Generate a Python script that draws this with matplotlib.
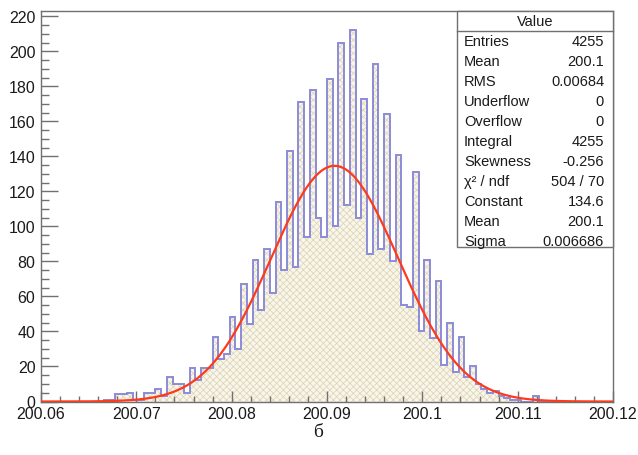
import numpy as np
import matplotlib
matplotlib.use("Agg")
import matplotlib.pyplot as plt
from matplotlib.patches import Rectangle
from matplotlib.lines import Line2D
from matplotlib.ticker import MultipleLocator, FuncFormatter

# histogram: 100 bins between 200.06 and 200.12
x_min, x_max, n_bins = 200.06, 200.12, 100
counts = [0, 0, 0, 0, 0, 0, 0, 0, 0, 0,
          0, 1, 1, 4, 4, 5, 1, 1, 5, 5,
          7, 3, 14, 10, 10, 5, 19, 12, 19, 19,
          37, 24, 27, 48, 30, 67, 44, 81, 52, 87,
          62, 114, 75, 143, 77, 171, 94, 178, 105, 94,
          184, 100, 205, 112, 212, 105, 173, 84, 193, 87,
          164, 80, 141, 55, 54, 131, 40, 81, 36, 69,
          21, 45, 17, 37, 14, 20, 10, 7, 5, 6,
          3, 2, 1, 1, 0, 0, 3, 0, 0, 0,
          0, 0, 0, 0, 0, 0, 0, 0, 0, 0]

# gaussian fit results (from the stats box)
fit_const = 134.6
fit_mean = 200.0908
fit_sigma = 0.006686

stat_names = ["Entries", "Mean", "RMS", "Underflow", "Overflow", "Integral",
              "Skewness", "\u03c7\u00b2 / ndf", "Constant", "Mean", "Sigma"]
stat_values = ["4255", "200.1", "0.00684", "0", "0", "4255",
               "-0.256", "504 / 70", "134.6", "200.1", "0.006686"]

W, H = 638, 456
plt.rcParams['font.family'] = ['Liberation Sans', 'DejaVu Sans']
plt.rcParams['hatch.linewidth'] = 0.5

fig = plt.figure(figsize=(W / 100, H / 100), dpi=100)

def fx(px):
    return px / W

def fy(py):
    return 1 - py / H

ax = fig.add_axes([fx(41), fy(402.5), fx(613) - fx(41), fy(11.7) - fy(402.5)])

edges = np.linspace(x_min, x_max, n_bins + 1)
ax.stairs(counts, edges, fill=True, facecolor='#f8f5ea', edgecolor='#ddd2b2',
          linewidth=0, hatch='xxxxx', zorder=1)
ax.stairs(counts, edges, color='#8c8cd8', linewidth=1.4, zorder=2)

xs = np.linspace(x_min, x_max, 600)
ax.plot(xs, fit_const * np.exp(-0.5 * ((xs - fit_mean) / fit_sigma) ** 2),
        color='#ff3a1a', linewidth=1.6, zorder=3)

ax.set_xlim(x_min, x_max)
ax.set_ylim(0, 223.2)

frame_col = '#707070'
for s in ax.spines.values():
    s.set_color(frame_col)
    s.set_linewidth(1.0)

ax.xaxis.set_major_locator(MultipleLocator(0.01))
ax.xaxis.set_minor_locator(MultipleLocator(0.002))
ax.yaxis.set_major_locator(MultipleLocator(20))
ax.yaxis.set_minor_locator(MultipleLocator(5))
ax.xaxis.set_major_formatter(FuncFormatter(lambda v, p: '{:g}'.format(round(v, 4))))
ax.yaxis.set_major_formatter(FuncFormatter(lambda v, p: '{:g}'.format(v)))

ax.tick_params(axis='both', which='both', direction='in', color=frame_col,
               width=1.0, labelsize=11.5, labelcolor='#1a1a1a')
ax.tick_params(axis='y', which='major', length=12, pad=4)
ax.tick_params(axis='y', which='minor', length=6)
ax.tick_params(axis='x', which='major', length=8, pad=3)
ax.tick_params(axis='x', which='minor', length=4)

# stats box
bx0, by0, bx1, by1 = 456.7, 11.7, 613.3, 248.3
fig.patches.append(Rectangle((fx(bx0), fy(by1)), fx(bx1) - fx(bx0), fy(by0) - fy(by1),
                             transform=fig.transFigure, facecolor='white',
                             edgecolor=frame_col, linewidth=1.0, zorder=5))
fig.lines.append(Line2D([fx(bx0), fx(bx1)], [fy(31.7), fy(31.7)],
                        transform=fig.transFigure, color=frame_col, linewidth=1.0, zorder=6))
fig.text(fx(535), fy(21.7), "Value", ha='center', va='center', fontsize=10.5,
         color='#1a1a1a', zorder=7)
for i, (name, val) in enumerate(zip(stat_names, stat_values)):
    y = fy(41.7 + 20 * i)
    fig.text(fx(464), y, name, ha='left', va='center', fontsize=10.5,
             color='#1a1a1a', zorder=7)
    fig.text(fx(604), y, val, ha='right', va='center', fontsize=10.5,
             color='#1a1a1a', zorder=7)

fig.text(fx(318), fy(433), "\u0431", ha='center', va='center', fontsize=14,
         family=['Liberation Serif', 'DejaVu Serif'], color='#1a1a1a')

fig.savefig("out.png", dpi=100)
